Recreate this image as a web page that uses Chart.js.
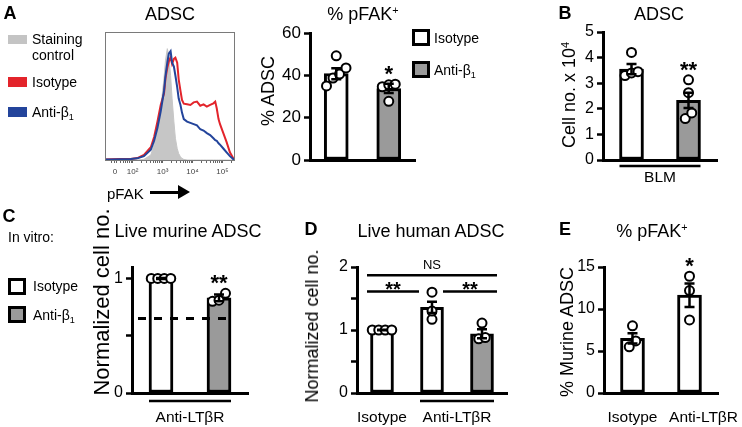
<!DOCTYPE html>
<html>
<head>
<meta charset="utf-8">
<title>pFAK / ADSC</title>
<script src="https://cdn.jsdelivr.net/npm/chart.js@4.4.1/dist/chart.umd.min.js"></script>
<style>
  body { margin: 0; background: #fff; }
  #fig { position: relative; width: 742px; height: 427px; overflow: hidden; font-family: "Liberation Sans", Arial, Helvetica, sans-serif; color: #000; }
  #fig canvas { position: absolute; left: 0; top: 0; }
  .t { position: absolute; white-space: nowrap; line-height: 1; transform: translate(-50%, -50%); }
  .l { transform: translate(0, -50%); }
  .v { transform: translate(-50%, -50%) rotate(-90deg); }
  .letter { font-weight: bold; font-size: 18px; }
  .ttl { font-size: 18px; }
  .leg { font-size: 14px; }
  .sup { font-size: .6em; position: relative; top: -.55em; }
  .sub { font-size: .65em; position: relative; top: .3em; }
  .sq { position: absolute; box-sizing: border-box; width: 18px; height: 17px; border: 3px solid #000; background: #fff; }
  .sq.g { background: #9a9a9a; }
  .sw { position: absolute; width: 19px; height: 10px; }
</style>
</head>
<body>
<div id="fig">
  <canvas id="cHist" width="742" height="427"></canvas>
  <canvas id="cPfak" width="742" height="427"></canvas>
  <canvas id="cBlm" width="742" height="427"></canvas>
  <canvas id="cMurine" width="742" height="427"></canvas>
  <canvas id="cHuman" width="742" height="427"></canvas>
  <canvas id="cPfakE" width="742" height="427"></canvas>

  <!-- panel letters and titles -->
  <div class="t letter" style="left:10px;top:13px">A</div>
  <div class="t ttl" style="left:170px;top:14px">ADSC</div>
  <div class="t ttl" style="left:363px;top:14px">% pFAK<span class="sup">+</span></div>
  <div class="t letter" style="left:565px;top:13px">B</div>
  <div class="t ttl" style="left:659px;top:14px">ADSC</div>
  <div class="t letter" style="left:9px;top:216px">C</div>
  <div class="t ttl" style="left:188px;top:231px">Live murine ADSC</div>
  <div class="t letter" style="left:311px;top:229px">D</div>
  <div class="t ttl" style="left:431px;top:231px">Live human ADSC</div>
  <div class="t letter" style="left:565px;top:229px">E</div>
  <div class="t ttl" style="left:652px;top:231px">% pFAK<span class="sup">+</span></div>

  <!-- y axis titles -->
  <div class="t v" style="left:268px;top:91px;font-size:18px">% ADSC</div>
  <div class="t v" style="left:569px;top:95px;font-size:18px">Cell no. x 10<span class="sup">4</span></div>
  <div class="t v" style="left:102px;top:302px;font-size:22px">Normalized cell no.</div>
  <div class="t v" style="left:312px;top:326px;font-size:18px">Normalized cell no.</div>
  <div class="t v" style="left:567px;top:332px;font-size:18px">% Murine ADSC</div>

  <!-- histogram legend -->
  <div class="sw" style="left:8px;top:35px;height:9px;background:#c4c4c4"></div>
  <div class="t l leg" style="left:32px;top:39px">Staining</div>
  <div class="t l leg" style="left:32px;top:55px">control</div>
  <div class="sw" style="left:8px;top:77px;background:#e3242b"></div>
  <div class="t l leg" style="left:32px;top:82px">Isotype</div>
  <div class="sw" style="left:8px;top:107px;background:#23449b"></div>
  <div class="t l leg" style="left:32px;top:112px">Anti-β<span class="sub">1</span></div>

  <!-- pFAK axis label -->
  <div class="t l" style="left:107px;top:193px;font-size:15px">pFAK</div>
  <div style="position:absolute;left:150px;top:191px;width:30px;height:3px;background:#000"></div>
  <div style="position:absolute;left:178px;top:185px;width:0;height:0;border-left:12px solid #000;border-top:7.5px solid transparent;border-bottom:7.5px solid transparent"></div>

  <!-- A bar legend -->
  <div class="sq" style="left:412px;top:29px"></div>
  <div class="t l leg" style="left:434px;top:38px">Isotype</div>
  <div class="sq g" style="left:412px;top:61px"></div>
  <div class="t l leg" style="left:434px;top:70px">Anti-β<span class="sub">1</span></div>

  <!-- C legend -->
  <div class="t l leg" style="left:8px;top:237px">In vitro:</div>
  <div class="sq" style="left:8px;top:278px"></div>
  <div class="t l leg" style="left:33px;top:286px">Isotype</div>
  <div class="sq g" style="left:8px;top:306px"></div>
  <div class="t l leg" style="left:33px;top:315px">Anti-β<span class="sub">1</span></div>
</div>

<script>
// ---- A: pFAK histogram (x in logicle decades: 2 = 10^2, ...; y = % of max) ----
const histX = [1.08, 1.28, 1.61, 1.94, 2.16, 2.38, 2.61, 2.72, 2.83, 2.94, 3.05, 3.10, 3.16, 3.21, 3.27, 3.32, 3.38, 3.43, 3.49, 3.54,
               3.60, 3.65, 3.71, 3.82, 3.93, 4.04, 4.15, 4.26, 4.37, 4.48, 4.59, 4.70, 4.76, 4.81, 4.87, 4.92, 5.03, 5.14, 5.25, 5.37, 5.42];
const histStaining = [0, 0, 0, 0, 0, 0.5, 4, 12, 24, 40, 64, 78, 87, 82, 66, 48, 30, 17, 9, 5,
                      2.5, 1.2, 0.5, 0, 0, 0, 0, 0, 0, 0, 0, 0, 0, 0, 0, 0, 0, 0, 0, 0, 0];
const histIsotype = [0.3, 0.5, 0.8, 0.8, 1.5, 4, 10, 18, 30, 43, 52, 64, 72, 77, 80, 75, 79, 80, 76, 63,
                     54, 47, 44, 43.5, 43, 45, 45.6, 42.4, 43.5, 41.7, 43, 44.3, 45.6, 40.4, 32, 28, 21, 14, 6, 1, 0];
const histAntiB1 = [0.3, 0.3, 0.6, 0.8, 1.3, 3, 8, 15, 25, 38, 54, 66, 76, 83, 85, 76, 73, 66, 57, 48,
                    43, 37, 32, 30, 29, 28, 27, 24, 23, 21, 19.5, 17, 15.5, 15, 13, 12, 9, 6, 3, 0.5, 0];
const histTickVals = [1.41, 2, 3, 4, 5];
const histTickLabels = ['0', '10²', '10³', '10⁴', '10⁵'];

// ---- A: % pFAK+ ----
const pfakGroups = ['Isotype', 'Anti-β1'];
const pfakMean = [40.8, 33.8];
const pfakSem = [2.6, 2.2];
const pfakIso = [49.2, 43.5, 40.6, 38.7, 35];
const pfakAnti = [35.8, 35.5, 34.6, 27.7];
const pfakTicks = [0, 20, 40, 60];

// ---- B: cell numbers, BLM ----
const blmGroups = ['Isotype', 'Anti-β1'];
const blmMean = [3.55, 2.33];
const blmSem = [0.2, 0.3];
const blmIso = [4.2, 3.45, 3.4, 3.3];
const blmAnti = [3.13, 2.63, 1.84, 1.62];
const blmTicks = [0, 1, 2, 3, 4, 5];

// ---- C: live murine ADSC ----
const murGroups = ['Isotype', 'Anti-β1'];
const murMean = [1.0, 0.83];
const murSem = [0.004, 0.03];
const murIso = [1, 1, 1, 1];
const murAnti = [0.87, 0.81, 0.8];
const murTicks = [0, 0.5, 1];
const murTickLabels = ['0', '', '1'];
const murThreshold = 0.65;

// ---- D: live human ADSC ----
const humGroups = ['Isotype', 'Anti-LTβR + Isotype', 'Anti-LTβR + Anti-β1'];
const humMean = [1.0, 1.36, 0.94];
const humSem = [0.005, 0.09, 0.07];
const humIso = [1, 1, 1, 1];
const humLtbr = [1.6, 1.3, 1.17];
const humLtbrB1 = [1.11, 0.88, 0.86];
const humTicks = [0, 0.5, 1, 1.5, 2];
const humTickLabels = ['0', '', '1', '', '2'];
const humCompare = [
  { from: 0, to: 2, level: 1.87, label: 'NS' },
  { from: 0, to: 1, level: 1.61, label: '**' },
  { from: 1, to: 2, level: 1.61, label: '**' },
];

// ---- E: % pFAK+ murine ADSC ----
const eGroups = ['Isotype', 'Anti-LTβR'];
const eMean = [6.5, 11.65];
const eSem = [0.6, 1.4];
const eIso = [8.0, 6.2, 5.5];
const eAnti = [13.9, 12.2, 8.7];
const eTicks = [0, 5, 10, 15];

const FONT = '"Liberation Sans", Arial, Helvetica, sans-serif';
const W = 742, H = 427, Y_AXIS_W = 45;
const WHITE = '#ffffff', GREY = '#9a9a9a';

Chart.defaults.font.family = FONT;
Chart.defaults.color = '#000';

// force scale box sizes so the plot areas land where they should
function fixBox(w, h) {
  return s => {
    if (w != null) s.width = w;
    if (h != null) s.height = h;
    s.paddingLeft = s.paddingRight = s.paddingTop = s.paddingBottom = 0;
  };
}

// spread dots that sit on top of each other
function swarm(vals, tol, step) {
  const sorted = vals.slice().sort((a, b) => a - b);
  const out = [];
  let grp = [];
  const flush = () => {
    grp.forEach((v, k) => out.push({ y: v, dx: (k - (grp.length - 1) / 2) * step }));
    grp = [];
  };
  sorted.forEach(v => {
    if (grp.length && v - grp[grp.length - 1] > tol) flush();
    grp.push(v);
  });
  flush();
  return out;
}

function annotations(cfg) {
  return {
    id: 'annot',
    afterDatasetsDraw(chart) {
      const { ctx, chartArea: area, scales: { x, y } } = chart;
      const n = cfg.means.length;
      ctx.save();
      ctx.strokeStyle = '#000';
      ctx.fillStyle = '#000';

      // error bars (mean +- sem)
      ctx.lineWidth = 2.5;
      cfg.means.forEach((m, i) => {
        const cx = x.getPixelForValue(i);
        const top = y.getPixelForValue(m + cfg.sems[i]);
        const bot = y.getPixelForValue(m - cfg.sems[i]);
        ctx.beginPath();
        ctx.moveTo(cx, top); ctx.lineTo(cx, bot);
        ctx.moveTo(cx - 5, top); ctx.lineTo(cx + 5, top);
        ctx.moveTo(cx - 5, bot); ctx.lineTo(cx + 5, bot);
        ctx.stroke();
      });

      // dashed reference line
      if (cfg.refLine != null) {
        const yy = y.getPixelForValue(cfg.refLine);
        ctx.save();
        ctx.lineWidth = 3;
        ctx.setLineDash([8, 8]);
        ctx.beginPath();
        ctx.moveTo(area.left + 6, yy);
        ctx.lineTo(x.getPixelForValue(n - 1) + 13, yy);
        ctx.stroke();
        ctx.restore();
      }

      // significance stars over single bars
      ctx.textAlign = 'center';
      ctx.textBaseline = 'alphabetic';
      ctx.font = 'bold 22px ' + FONT;
      (cfg.stars || []).forEach((s, i) => {
        if (!s) return;
        const top = Math.max(...cfg.points[i], cfg.means[i] + cfg.sems[i]);
        const cy = y.getPixelForValue(top) - 15;
        ctx.fillText(s, x.getPixelForValue(i), cy + 12);
      });

      // comparison brackets
      (cfg.compare || []).forEach(c => {
        const yy = y.getPixelForValue(c.level);
        const x1 = c.from === 0 ? x.getPixelForValue(c.from) - 15 : x.getPixelForValue(c.from) + 11;
        const x2 = c.to === n - 1 ? x.getPixelForValue(c.to) + 15 : x.getPixelForValue(c.to) - 13;
        ctx.lineWidth = 2.5;
        ctx.beginPath();
        ctx.moveTo(x1, yy); ctx.lineTo(x2, yy);
        ctx.stroke();
        if (c.label === 'NS') {
          ctx.font = '13px ' + FONT;
          ctx.textBaseline = 'middle';
          ctx.fillText(c.label, (x1 + x2) / 2, yy - 10);
        } else {
          ctx.font = 'bold 20px ' + FONT;
          ctx.textBaseline = 'alphabetic';
          ctx.fillText(c.label, (x1 + x2) / 2, yy + 4);
        }
      });

      // group labels under the x axis
      (cfg.groups || []).forEach(g => {
        const x1 = x.getPixelForValue(g.from) - 12;
        const x2 = x.getPixelForValue(g.to) + 12;
        if (g.line) {
          const yy = area.bottom + cfg.lineGap;
          ctx.lineWidth = 2.5;
          ctx.beginPath();
          ctx.moveTo(x1, yy); ctx.lineTo(x2, yy);
          ctx.stroke();
        }
        ctx.font = '15.5px ' + FONT;
        ctx.textBaseline = 'middle';
        ctx.fillText(g.label, (x1 + x2) / 2 + (g.dx || 0), area.bottom + cfg.textGap);
      });
      ctx.restore();
    }
  };
}

function barPanel(id, cfg) {
  const n = cfg.labels.length;
  const a = cfg.area;
  const pad = { left: a.left - Y_AXIS_W, right: W - a.right, top: a.top, bottom: H - a.bottom };
  const step = 6.5 / ((a.right - a.left) / n);
  const tol = 8 / ((a.bottom - a.top) / cfg.max);
  const dots = [];
  cfg.points.forEach((vals, i) => swarm(vals, tol, step).forEach(d => dots.push({ x: i + d.dx, y: d.y })));
  const tickLabels = cfg.tickLabels || cfg.ticks.map(String);

  return new Chart(document.getElementById(id), {
    data: {
      labels: cfg.labels,
      datasets: [
        {
          type: 'bar', data: cfg.means, backgroundColor: cfg.fills,
          borderColor: '#000', borderWidth: 3, borderSkipped: false,
          barThickness: cfg.barW || 24, grouped: false, order: 2,
        },
        {
          type: 'scatter', data: dots, xAxisID: 'x2',
          pointRadius: 4.5, pointBorderWidth: 2,
          pointBackgroundColor: '#fff', pointBorderColor: '#000', order: 1,
        },
      ],
    },
    options: {
      responsive: false,
      animation: false,
      events: [],
      layout: { padding: pad },
      plugins: { legend: { display: false }, tooltip: { enabled: false } },
      scales: {
        x: {
          type: 'category', offset: true,
          grid: { display: false },
          border: { color: '#000', width: 3 },
          ticks: { display: false },
          afterFit: fixBox(null, 0),
        },
        x2: { type: 'linear', display: false, min: -0.5, max: n - 0.5 },
        y: {
          min: 0, max: cfg.max,
          afterBuildTicks: s => { s.ticks = cfg.ticks.map(v => ({ value: v })); },
          ticks: {
            autoSkip: false, padding: 3, color: '#000',
            font: { size: cfg.tickSize || 16 },
            callback: (v, i) => tickLabels[i],
          },
          grid: { drawOnChartArea: false, drawTicks: true, tickLength: 6, tickWidth: 2.5, tickColor: '#000' },
          border: { color: '#000', width: 3 },
          afterFit: fixBox(Y_AXIS_W, null),
        },
      },
    },
    plugins: [annotations(cfg)],
  });
}

// ---- histogram ----
const histMinor = [];
for (let d = 1; d < 6; d++) {
  for (let k = 2; k < 10; k++) {
    const t = d + Math.log10(k);
    if (t > 1.1 && t < 5.42) histMinor.push(t);
  }
}
const histAllTicks = histTickVals.concat(histMinor).sort((p, q) => p - q);

const framePlugin = {
  id: 'frame',
  afterDraw(chart) {
    const { ctx, chartArea: a } = chart;
    ctx.save();
    ctx.strokeStyle = '#7a7a7a';
    ctx.lineWidth = 1;
    ctx.strokeRect(a.left + 0.5, a.top + 0.5, a.right - a.left - 1, a.bottom - a.top);
    ctx.restore();
  },
};

const histArea = { left: 105, right: 235, top: 32, bottom: 160 };
const HIST_X_H = 20;
new Chart(document.getElementById('cHist'), {
  type: 'line',
  data: {
    datasets: [
      { data: histX.map((t, i) => ({ x: t, y: histStaining[i] })), fill: 'origin',
        backgroundColor: '#c6c6c6', borderColor: '#c6c6c6', borderWidth: 1, order: 3 },
      { data: histX.map((t, i) => ({ x: t, y: histIsotype[i] })), fill: false,
        borderColor: '#e3242b', borderWidth: 2, order: 2 },
      { data: histX.map((t, i) => ({ x: t, y: histAntiB1[i] })), fill: false,
        borderColor: '#23449b', borderWidth: 2, order: 1 },
    ],
  },
  options: {
    responsive: false,
    animation: false,
    events: [],
    layout: { padding: { left: histArea.left, right: W - histArea.right, top: histArea.top, bottom: H - histArea.bottom - HIST_X_H } },
    elements: { point: { radius: 0 }, line: { tension: 0 } },
    plugins: { legend: { display: false }, tooltip: { enabled: false } },
    scales: {
      x: {
        type: 'linear', min: 1.08, max: 5.42,
        afterBuildTicks: s => { s.ticks = histAllTicks.map(v => ({ value: v })); },
        ticks: {
          autoSkip: false, maxRotation: 0, minRotation: 0, padding: 4, color: '#444',
          font: { size: 8 },
          callback: v => { const i = histTickVals.indexOf(v); return i >= 0 ? histTickLabels[i] : ''; },
        },
        grid: { drawOnChartArea: false, drawTicks: true, tickLength: 3, color: '#666', lineWidth: 1 },
        border: { display: false },
        afterFit: fixBox(null, HIST_X_H),
      },
      y: { display: false, min: 0, max: 100 },
    },
  },
  plugins: [framePlugin],
});

// ---- A: % pFAK+ ----
barPanel('cPfak', {
  area: { left: 310, right: 415, top: 33, bottom: 160 },
  labels: pfakGroups, means: pfakMean, sems: pfakSem, points: [pfakIso, pfakAnti],
  fills: [WHITE, GREY], max: 60, ticks: pfakTicks, stars: ['', '*'], tickSize: 17,
});

// ---- B ----
barPanel('cBlm', {
  area: { left: 603, right: 717, top: 32, bottom: 160 },
  labels: blmGroups, means: blmMean, sems: blmSem, points: [blmIso, blmAnti],
  fills: [WHITE, GREY], max: 5, ticks: blmTicks, stars: ['', '**'], tickSize: 16,
  groups: [{ label: 'BLM', from: 0, to: 1, line: true }], lineGap: 6, textGap: 18,
});

// ---- C ----
barPanel('cMurine', {
  area: { left: 132, right: 248, top: 267, bottom: 393 },
  labels: murGroups, means: murMean, sems: murSem, points: [murIso, murAnti],
  fills: [WHITE, GREY], max: 1.1, ticks: murTicks, tickLabels: murTickLabels, stars: ['', '**'],
  refLine: murThreshold,
  groups: [{ label: 'Anti-LTβR', from: 0, to: 1, line: true }], lineGap: 8, textGap: 25,
});

// ---- D ----
barPanel('cHuman', {
  area: { left: 357, right: 507, top: 267, bottom: 393 },
  labels: humGroups, means: humMean, sems: humSem, points: [humIso, humLtbr, humLtbrB1],
  fills: [WHITE, WHITE, GREY], max: 2, ticks: humTicks, tickLabels: humTickLabels, barW: 23,
  compare: humCompare,
  groups: [{ label: 'Isotype', from: 0, to: 0, line: false }, { label: 'Anti-LTβR', from: 1, to: 2, line: true }],
  lineGap: 8, textGap: 25,
});

// ---- E ----
barPanel('cPfakE', {
  area: { left: 604, right: 718, top: 267, bottom: 393 },
  labels: eGroups, means: eMean, sems: eSem, points: [eIso, eAnti],
  fills: [WHITE, WHITE], max: 15, ticks: eTicks, stars: ['', '*'],
  groups: [{ label: 'Isotype', from: 0, to: 0, line: false }, { label: 'Anti-LTβR', from: 1, to: 1, line: false, dx: 14 }],
  lineGap: 8, textGap: 25,
});
</script>
</body>
</html>
